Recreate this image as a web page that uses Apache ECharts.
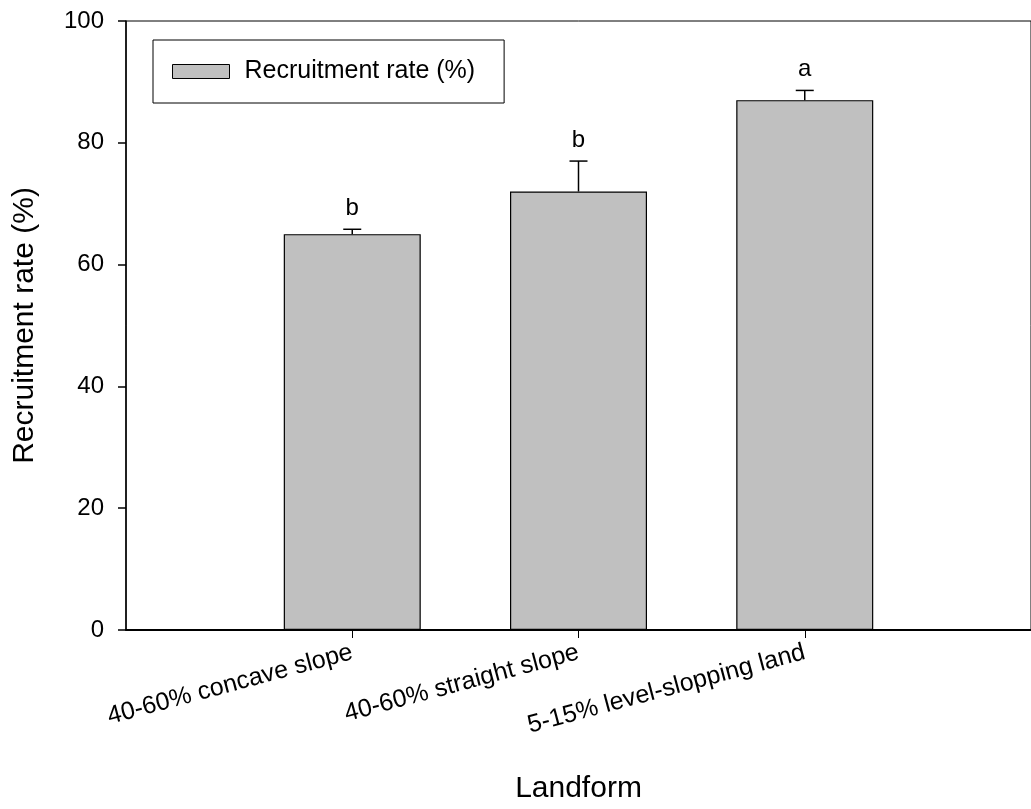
<!DOCTYPE html>
<html>
<head>
<meta charset="utf-8">
<script src="https://cdn.jsdelivr.net/npm/echarts@6/dist/echarts.min.js"></script>
<style>
html,body{margin:0;padding:0;background:#fff;}
#chart{width:1031px;height:809px;}
</style>
</head>
<body>
<div id="chart"></div>
<script>
const categories = ['40-60% concave slope', '40-60% straight slope', '5-15% level-slopping land'];
const values = [65, 72, 87];
const errors = [0.8, 5, 1.6];
const letters = ['b', 'b', 'a'];
const yTicks = [0, 20, 40, 60, 80, 100];

const FONT = 'Liberation Sans, Arial, sans-serif';
const axisCats = [''].concat(categories, ['']);
const barData = ['-'].concat(values, ['-']);
const errData = categories.map((c, i) => [i + 1, values[i], values[i] + errors[i], letters[i]]);

const chart = echarts.init(document.getElementById('chart'));
chart.setOption({
  animation: false,
  backgroundColor: '#fff',
  grid: { left: 126, top: 21, width: 914, height: 616, show: true, borderColor: '#000', borderWidth: 1, containLabel: false },
  legend: {
    left: 153, top: 40,
    orient: 'horizontal',
    padding: [19, 29, 19, 19],
    borderColor: '#000', borderWidth: 1,
    backgroundColor: '#fff',
    itemWidth: 57, itemHeight: 14, itemGap: 15,
    textStyle: { fontFamily: FONT, fontSize: 25, color: '#000', lineHeight: 24, padding: [0, 0, 0, 10] },
    data: [{ name: 'Recruitment rate (%)', icon: 'rect', itemStyle: { color: '#c0c0c0', borderColor: '#000', borderWidth: 1 } }]
  },
  xAxis: {
    type: 'category',
    data: axisCats,
    boundaryGap: false,
    name: 'Landform',
    nameLocation: 'middle',
    nameGap: 144,
    nameTextStyle: { fontFamily: FONT, fontSize: 30, color: '#000', verticalAlign: 'top' },
    axisLine: { show: true, lineStyle: { color: '#000', width: 2 } },
    axisTick: { show: true, length: 8, inside: false, alignWithLabel: true,
      interval: function (i) { return i >= 1 && i <= categories.length; },
      lineStyle: { color: '#000', width: 1 } },
    axisLabel: { show: true, rotate: 15, margin: 22, fontFamily: FONT, fontSize: 25, color: '#000',
      interval: function (i) { return i >= 1 && i <= categories.length; } },
    splitLine: { show: false }
  },
  yAxis: {
    type: 'value',
    min: 0, max: 100, interval: 20,
    name: 'Recruitment rate (%)',
    nameLocation: 'middle',
    nameGap: 86,
    nameTextStyle: { fontFamily: FONT, fontSize: 30, color: '#000' },
    axisLine: { show: true, lineStyle: { color: '#000', width: 1.5 } },
    axisTick: { show: true, length: 8, inside: false, lineStyle: { color: '#000', width: 1.5 } },
    axisLabel: { margin: 22, fontFamily: FONT, fontSize: 24, color: '#000',
      formatter: function (v) { return yTicks.indexOf(v) >= 0 ? String(v) : ''; } },
    splitLine: { show: false }
  },
  series: [
    {
      name: 'Recruitment rate (%)',
      type: 'bar',
      data: barData,
      barWidth: 137,
      itemStyle: { color: '#c0c0c0', borderColor: '#000', borderWidth: 1.2 },
      z: 2
    },
    {
      type: 'custom',
      data: errData,
      z: 3,
      renderItem: function (params, api) {
        const x = api.value(0);
        const base = api.coord([x, api.value(1)]);
        const top = api.coord([x, api.value(2)]);
        const letter = errData[params.dataIndex][3];
        return {
          type: 'group',
          children: [
            { type: 'line', shape: { x1: base[0], y1: base[1], x2: top[0], y2: top[1] }, style: { stroke: '#000', lineWidth: 1.5 } },
            { type: 'line', shape: { x1: top[0] - 9, y1: top[1], x2: top[0] + 9, y2: top[1] }, style: { stroke: '#000', lineWidth: 1.5 } },
            { type: 'text', x: top[0], y: top[1] - 21, style: { text: letter, fontFamily: FONT, fontSize: 24, fill: '#000', align: 'center', verticalAlign: 'middle' } }
          ]
        };
      }
    }
  ]
});
</script>
</body>
</html>
